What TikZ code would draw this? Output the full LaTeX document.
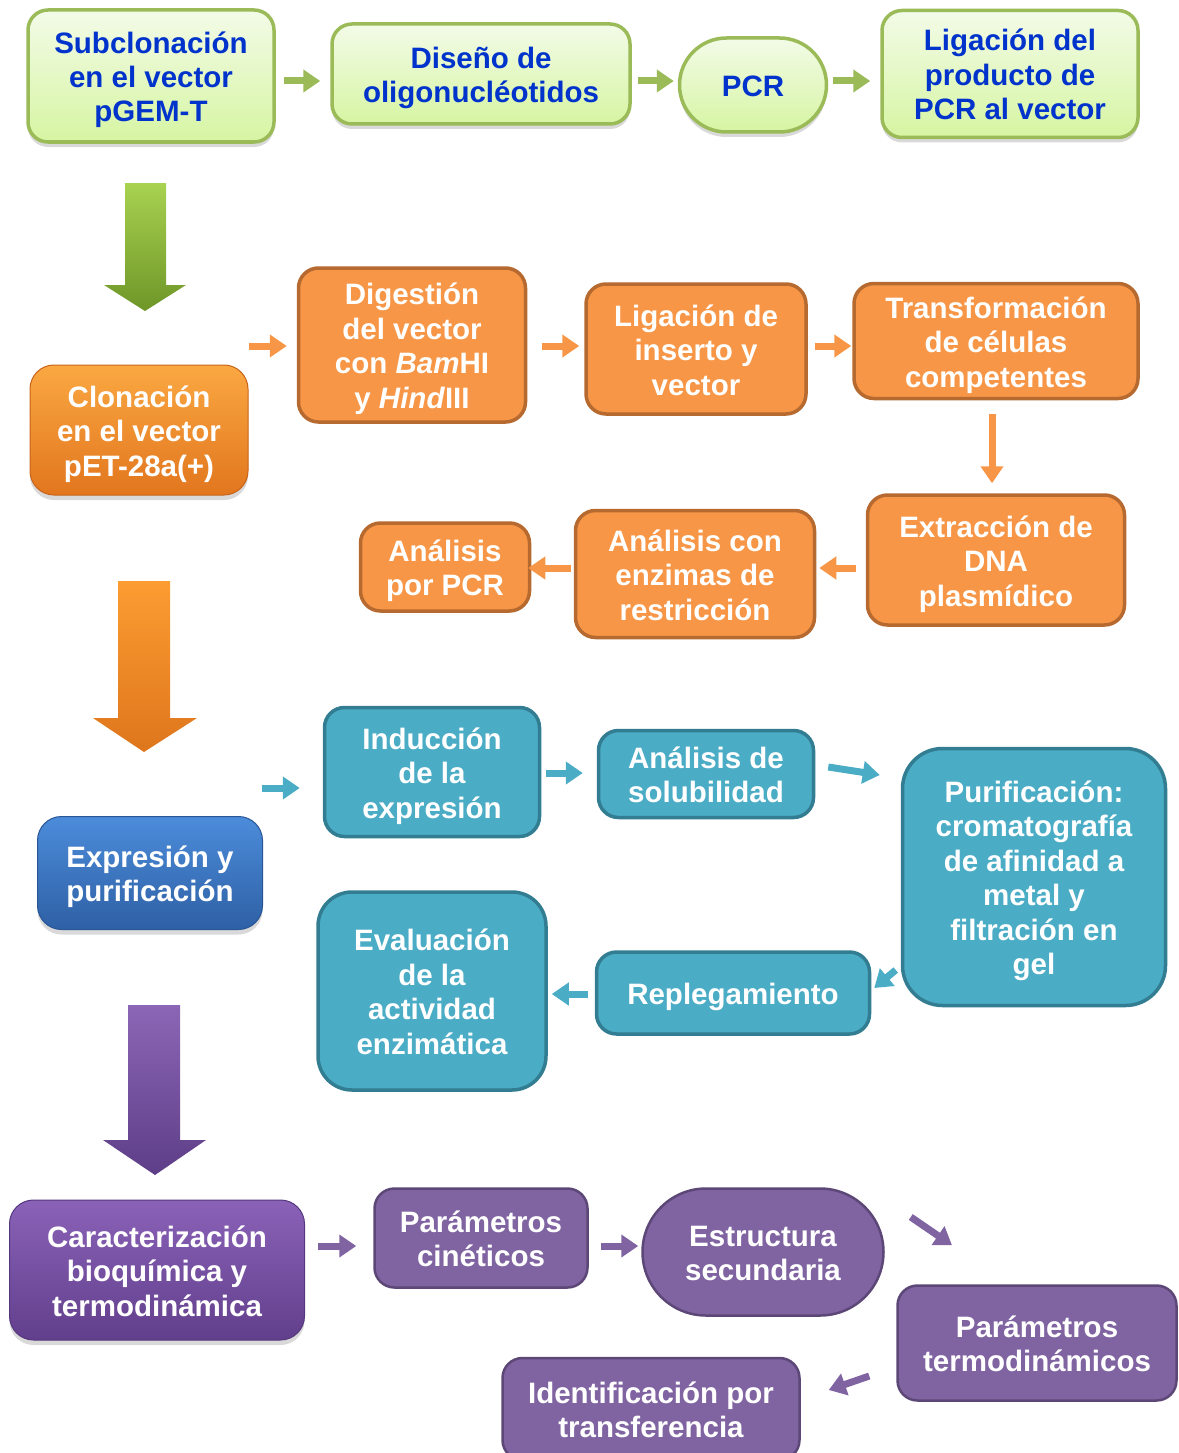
\documentclass[tikz,border=0pt]{standalone}
\usepackage{fontspec}
\setmainfont{Liberation Sans}
\usetikzlibrary{arrows.meta,shapes.misc,shadows}
\definecolor{gtop}{RGB}{243,251,232}
\definecolor{gbot}{RGB}{214,245,162}
\definecolor{gborder}{RGB}{155,187,89}
\definecolor{gtext}{RGB}{0,51,204}
\definecolor{garrow}{RGB}{155,187,89}
\definecolor{ofill}{RGB}{247,150,70}
\definecolor{oborder}{RGB}{182,106,48}
\definecolor{teal}{RGB}{75,172,198}
\definecolor{tborder}{RGB}{50,125,145}
\definecolor{pfill}{RGB}{128,100,162}
\definecolor{pborder}{RGB}{92,71,118}
\newcommand{\tA}{\rule{0pt}{29.5pt}}
\newcommand{\tZ}{\rule[-6.5pt]{0pt}{6.5pt}}
\begin{document}
\begin{tikzpicture}[x=1pt,y=-1pt,
  wh/.style 2 args={minimum width=#1pt, minimum height=#2pt},
  box/.style={draw, line width=3.5pt, rounded corners=20pt, align=center, inner sep=0pt,
    font=\fontsize{29.5}{34.5}\selectfont\bfseries},
  shad/.style={drop shadow={opacity=0.3, shadow xshift=0pt, shadow yshift=-5pt}},
  gbox/.style={box, draw=gborder, top color=gtop, bottom color=gbot, text=gtext, shad},
  obox/.style={box, draw=oborder, fill=ofill, text=white},
  tbox/.style={box, draw=tborder, fill=teal, text=white},
  pbox/.style={box, line width=2.5pt, draw=pborder, fill=pfill, text=white},
  mainbox/.style={box, line width=1pt, rounded corners=24pt, text=white, shad},
  sarr/.style={line width=7pt, draw=#1, -{Triangle[width=22pt,length=17pt]}},
]
\useasboundingbox (0,0) rectangle (1178,1453);

% ---------- green section ----------
\node[gbox, wh={246}{132}] (sub) at (151,76) {\tA Subclonación\\en el vector\\pGEM-T\tZ};
\node[gbox, wh={298}{100}] (dis) at (481,74) {\tA Diseño de\\oligonucléotidos\tZ};
\node[gbox, rounded rectangle, sharp corners, wh={147}{94}] (pcr) at (753,85) {\tA PCR\tZ};
\node[gbox, wh={256}{127}] (lig) at (1010,74) {\tA Ligación del\\producto de\\PCR al vector\tZ};

\draw[sarr=garrow] ([shift={(8,5)}]sub.east) -- ([shift={(-10,7)}]dis.west);
\draw[sarr=garrow] ([shift={(6,7)}]dis.east) -- ([shift={(-4,-4)}]pcr.west);
\draw[sarr=garrow] ([shift={(5,-4)}]pcr.east) -- ([shift={(-10,7)}]lig.west);

\shade[top color={rgb,255:red,168;green,210;blue,80}, bottom color={rgb,255:red,110;green,150;blue,40}]
  (125,183) -- (166,183) -- (166,285) -- (186,285) -- (145,311) -- (104,285) -- (125,285) -- cycle;

% ---------- orange section ----------
\node[mainbox, draw={rgb,255:red,200;green,100;blue,25},
  top color={rgb,255:red,250;green,168;blue,66}, bottom color={rgb,255:red,226;green,118;blue,30},
  wh={218}{130}] (clo) at (139,430) {\tA Clonación\\en el vector\\pET-28a(+)\tZ};
\node[obox, wh={227}{154}] (dig) at (412,345) {\tA Digestión\\del vector\\con \textit{Bam}HI\\y \textit{Hind}III\tZ};
\node[obox, wh={220}{130}] (lii) at (696,349) {\tA Ligación de\\inserto y\\vector\tZ};
\node[obox, wh={284}{115}] (tra) at (996,341) {\tA Transformación\\de células\\competentes\tZ};
\node[obox, wh={257}{130}] (ext) at (996,560) {\tA Extracción de\\DNA\\plasmídico\tZ};
\node[obox, wh={239}{127}] (aen) at (695,574) {\tA Análisis con\\enzimas de\\restricción\tZ};
\node[obox, wh={169}{88}] (apc) at (445,567) {\tA Análisis\\por PCR\tZ};

\coordinate (b1s) at (249,346);
\draw[sarr=ofill] (b1s) -- ([shift={(-10,1)}]dig.west);
\draw[sarr=ofill] ([shift={(15,1)}]dig.east) -- ([shift={(-5,-3)}]lii.west);
\draw[sarr=ofill] ([shift={(7,-3)}]lii.east) -- ([shift={(-1,5)}]tra.west);
\draw[sarr=ofill] ([shift={(-4,14)}]tra.south) -- ([shift={(-4,-10)}]ext.north);
\draw[sarr=ofill] ([shift={(-10,8)}]ext.west) -- ([shift={(3,-6)}]aen.east);
\draw[sarr=ofill] ([shift={(-3,-6)}]aen.west) -- ([shift={(-3,1)}]apc.east);

\shade[top color={rgb,255:red,252;green,156;blue,50}, bottom color={rgb,255:red,222;green,118;blue,28}]
  (118,581) -- (170,581) -- (170,718) -- (197,718) -- (144,752) -- (93,718) -- (118,718) -- cycle;

% ---------- teal section ----------
\node[mainbox, draw={rgb,255:red,40;green,85;blue,150},
  top color={rgb,255:red,76;green,140;blue,218}, bottom color={rgb,255:red,46;green,96;blue,165},
  wh={225}{113}] (exp) at (150,873) {\tA Expresión y\\purificación\tZ};
\node[tbox, wh={215}{129}] (ind) at (432,772) {\tA Inducción\\de la\\expresión\tZ};
\node[tbox, wh={215}{87}] (sol) at (706,774) {\tA Análisis de\\solubilidad\tZ};
\node[tbox, rounded corners=40pt, wh={263}{257}] (pur) at (1034,877) {\tA Purificación:\\cromatografía\\de afinidad a\\metal y\\filtración en\\gel\tZ};
\node[tbox, wh={273}{82}] (rep) at (733,993) {\tA Replegamiento\tZ};
\node[tbox, rounded corners=34pt, wh={228}{198}] (eva) at (432,991) {\tA Evaluación\\de la\\actividad\\enzimática\tZ};

\coordinate (c1s) at (262,788);
\draw[sarr=teal] (c1s) -- ([shift={(-23,16)}]ind.west);
\draw[sarr=teal] ([shift={(5,1)}]ind.east) -- ([shift={(-14,-1)}]sol.west);
\draw[sarr=teal] ([shift={(13,-7)}]sol.east) -- ([shift={(-21,-102)}]pur.west);
\draw[sarr=teal] ([shift={(-5,93)}]pur.west) -- ([shift={(3,-5)}]rep.east);
\draw[sarr=teal] ([shift={(-7,1)}]rep.west) -- ([shift={(4,3)}]eva.east);

\shade[top color={rgb,255:red,140;green,102;blue,182}, bottom color={rgb,255:red,94;green,62;blue,136}]
  (128,1005) -- (180,1005) -- (180,1140) -- (206,1140) -- (155,1175) -- (103,1140) -- (128,1140) -- cycle;

% ---------- purple section ----------
\node[mainbox, draw={rgb,255:red,85;green,55;blue,125},
  top color={rgb,255:red,138;green,98;blue,184}, bottom color={rgb,255:red,98;green,63;blue,140},
  wh={295}{140}] (car) at (157,1270) {\tA Caracterización\\bioquímica y\\termodinámica\tZ};
\node[pbox, wh={213}{99}] (pci) at (481,1238) {\tA Parámetros\\cinéticos\tZ};
\node[pbox, rounded rectangle, sharp corners, wh={241}{127}] (est) at (763,1252) {\tA Estructura\\secundaria\tZ};
\node[pbox, wh={279}{115}] (pte) at (1037,1343) {\tA Parámetros\\termodinámicos\tZ};
\node[pbox, wh={297}{102}] (ide) at (651,1409) {\tA Identificación por\\transferencia\tZ};

\draw[sarr=pfill] ([shift={(13,-24)}]car.east) -- ([shift={(-17,8)}]pci.west);
\draw[sarr=pfill] ([shift={(12,8)}]pci.east) -- ([shift={(-3,-6)}]est.west);
\draw[sarr=pfill] ([shift={(26,-35)}]est.east) -- ([shift={(-85,-39)}]pte.north);
\draw[sarr=pfill] ([shift={(-27,33)}]pte.west) -- ([shift={(28,-19)}]ide.east);
\end{tikzpicture}
\end{document}
